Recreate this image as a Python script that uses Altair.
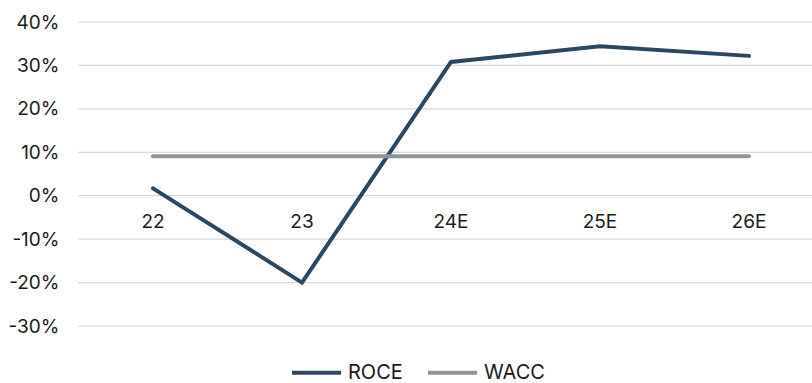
import altair as alt
import pandas as pd

# Fiscal years (E = estimate)
years = ["22", "23", "24E", "25E", "26E"]
roce = [1.7, -20.0, 30.8, 34.4, 32.2]   # return on capital employed, %
wacc = [9.1, 9.1, 9.1, 9.1, 9.1]        # weighted average cost of capital, %
grid_values = [-30, -20, -10, 0, 10, 20, 30, 40]

series_names = ["ROCE", "WACC"]
series_colors = ["#2d4761", "#8e9498"]

rows = []
for name, values in zip(series_names, [roce, wacc]):
    for yr, v in zip(years, values):
        rows.append({"year": yr, "series": name, "value": v})
df = pd.DataFrame(rows)
labels_df = pd.DataFrame({"year": years, "zero": [0] * len(years)})
grid_df = pd.DataFrame({"value": grid_values})

FONT = "Inter"
W, H = 734, 304

x_scale = alt.Scale(type="point", domain=years, range=[75, 671], padding=0)
y_scale = alt.Scale(domain=[-30, 40], nice=False, zero=False)

# horizontal gridlines spanning the full plot width
grid = alt.Chart(grid_df).mark_rule(color="#d9d9d9", strokeWidth=1.2).encode(
    y=alt.Y(
        "value:Q",
        scale=y_scale,
        axis=alt.Axis(
            values=grid_values,
            labelExpr="datum.value + '%'",
            title=None,
            domain=False,
            ticks=False,
            grid=False,
            labelPadding=19,
            labelFontSize=19,
            labelFont=FONT,
            labelColor="#1a1a1a",
        ),
    ),
    x=alt.value(0),
    x2=alt.value(W),
)

lines = alt.Chart(df).mark_line(strokeWidth=4, strokeCap="round").encode(
    x=alt.X("year:N", scale=x_scale, axis=None, sort=years),
    y=alt.Y("value:Q", scale=y_scale),
    color=alt.Color(
        "series:N",
        scale=alt.Scale(domain=series_names, range=series_colors),
        legend=alt.Legend(
            title=None,
            orient="none",
            direction="horizontal",
            legendX=212,
            legendY=324,
            symbolType="stroke",
            symbolSize=2401,
            symbolStrokeWidth=4,
            labelFontSize=20,
            labelFont=FONT,
            labelColor="#1a1a1a",
            labelOffset=5,
            columnPadding=17,
        ),
    ),
    order=alt.Order("series:N"),
)

year_labels = alt.Chart(labels_df).mark_text(
    fontSize=19, font=FONT, color="#1a1a1a", dy=26, baseline="middle"
).encode(
    x=alt.X("year:N", scale=x_scale, sort=years),
    y=alt.Y("zero:Q", scale=y_scale),
    text="year:N",
)

chart = (
    alt.layer(grid, lines, year_labels)
    .properties(
        width=W,
        height=H,
        padding={"left": 78, "top": 22, "right": 0, "bottom": 57},
        autosize=alt.AutoSizeParams(type="none"),
        background="white",
    )
    .configure_view(stroke=None)
)

chart.save("out.html", embed_options={"renderer": "svg", "actions": False})
